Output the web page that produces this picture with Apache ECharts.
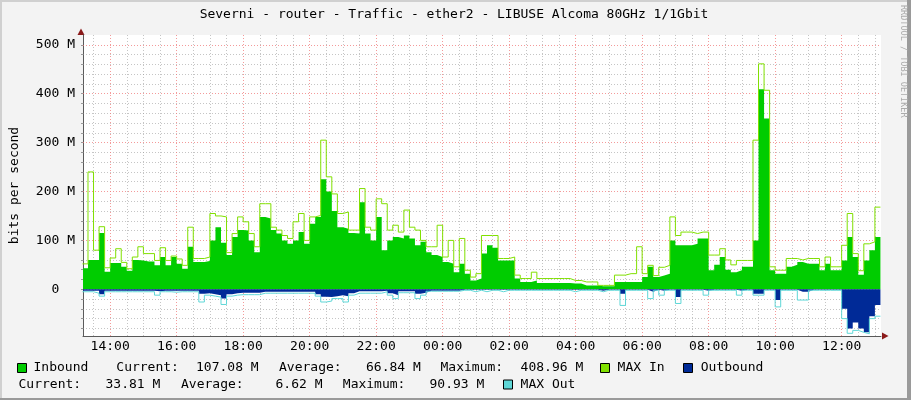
<!DOCTYPE html>
<html><head><meta charset="utf-8">
<script src="https://cdn.jsdelivr.net/npm/echarts@6/dist/echarts.min.js"></script>
<style>html,body{margin:0;padding:0;background:#f3f3f3}#c{width:911px;height:400px}</style>
</head><body><div id="c"></div>
<script>
// ---- data (values in Mbit/s, 10-minute samples starting 13:10) ----
const START_HOUR = 13 + 10 / 60;
const STEP_MIN = 10;

const inbound = [
 43,60,60,115,36,54,54,46,38,60,
 59,57,57,49,66,49,66,52,42,87,
 56,56,58,100,127,95,70,107,121,120,
 100,76,148,145,121,114,100,93,100,117,
 93,134,148,225,200,160,127,124,115,114,
 178,114,100,148,80,100,107,104,110,104,
 90,97,76,70,66,56,52,35,52,32,
 18,22,73,90,85,59,59,59,22,15,
 15,18,13,13,13,13,13,13,12,12,
 8,8,8,6,6,6,15,15,15,15,
 15,25,46,25,28,32,100,90,90,90,
 93,104,104,39,50,66,40,35,39,46,
 46,100,409,349,39,32,32,46,50,56,
 52,52,52,39,52,39,39,59,107,66,
 30,59,80,107,107
];
const maxIn = [
 52,240,80,128,44,64,83,55,42,66,
 87,73,73,59,85,59,68,62,49,127,
 63,63,66,155,150,148,75,114,148,138,
 114,87,175,175,127,121,110,104,138,155,
 100,148,151,305,230,195,155,158,121,121,
 206,127,121,185,175,121,131,117,162,127,
 121,100,87,87,131,66,100,46,104,39,
 25,32,110,110,110,63,63,66,29,22,
 22,35,22,22,22,22,22,22,18,18,
 15,15,15,8,8,8,29,29,32,32,
 87,32,49,28,45,49,148,110,117,117,
 114,117,117,70,70,83,60,50,59,59,
 59,305,461,407,46,39,39,63,63,60,
 63,63,63,46,66,46,46,90,155,73,
 38,93,97,168,168
];
const outbound = [
 3,3,3,10,3,3,3,3,3,3,
 3,3,3,4,3,3,3,3,3,3,
 3,9,8,10,12,19,10,8,7,7,
 7,7,5,5,5,5,5,5,5,5,
 5,5,10,15,16,14,12,14,8,4,
 4,4,4,4,3,8,12,4,4,4,
 9,7,3,3,3,3,3,3,1,1,
 1,1,1,1,1,1,1,1,1,1,
 1,1,1,1,1,1,1,1,1,1,
 1,1,1,3,1,1,1,9,1,1,
 1,1,5,1,3,1,1,16,1,1,
 1,1,3,1,1,1,1,1,3,1,
 1,9,9,1,1,22,1,1,1,5,
 5,1,1,1,1,1,1,40,80,68,
 80,88,55,32,34
];
const maxOut = [
 5,5,8,14,5,5,5,5,5,5,
 5,5,5,12,5,5,6,5,5,5,
 5,26,12,14,16,31,14,12,11,11,
 11,11,8,8,8,8,8,8,8,8,
 8,8,14,26,24,19,19,26,12,8,
 8,8,8,8,5,12,19,7,7,7,
 19,12,4,4,4,4,4,4,2,2,
 5,2,5,2,2,5,2,2,2,2,
 2,2,2,2,2,2,2,2,5,2,
 2,2,2,5,2,2,2,33,2,2,
 2,2,19,2,12,2,2,29,2,2,
 2,2,12,2,2,2,2,2,12,2,
 2,12,12,2,2,36,2,2,2,22,
 22,2,2,2,2,2,2,60,90,84,
 88,91,60,55,55
];

const xTickHours = [14,16,18,20,22,24,26,28,30,32,34,36];
const yTickValues = [0,100,200,300,400,500];

// ---- layout / style ----
const FONT = 'DejaVu Sans Mono';
const X_MIN = 13 + 11 / 60, X_MAX = X_MIN + 24;
const Y_MIN = -95.5, Y_MAX = 520;
const C_IN = '#00CC00', C_MAXIN = '#80E000', C_OUT = '#002A97', C_MAXOUT = '#5FD7D7';
const MAJOR = 'rgba(240,120,120,0.75)', MINOR = 'rgba(150,150,150,0.55)';

const times = inbound.map((_, i) => START_HOUR + i * STEP_MIN / 60);
const pair = (arr, sign) => arr.map((v, i) => [times[i], sign * v]);

// grid lines (through the axes' scales via markLine)
const gridLines = [];
for (let h = 13.5; h <= 37.0001; h += 0.5) {
  if (Math.abs(h % 2) > 0.01) gridLines.push({ xAxis: h, lineStyle: { color: MINOR, type: [1, 2], width: 1 } });
}
for (let v = -80; v <= 500; v += 20) {
  if (v % 100 !== 0) gridLines.push({ yAxis: v, lineStyle: { color: MINOR, type: [1, 2], width: 1 } });
}
xTickHours.forEach(h => gridLines.push({ xAxis: h, lineStyle: { color: MAJOR, type: [1, 2], width: 1 } }));
yTickValues.forEach(v => gridLines.push({ yAxis: v, lineStyle: { color: MAJOR, type: [1, 2], width: 1 } }));

const minorY = [];
for (let v = -80; v <= 500; v += 20) minorY.push(v);

const txt = (text, x, y, extra) => Object.assign({
  type: 'text', x, y, silent: true,
  style: { text, font: '13px ' + FONT, fill: '#000', align: 'left', verticalAlign: 'middle' }
}, extra || {});
const box = (x, y, color) => ({
  type: 'rect', silent: true, shape: { x, y, width: 9, height: 9 },
  style: { fill: color, stroke: '#000', lineWidth: 1 }
});

const R1 = 368, R2 = 384.5;
const TITLE = 'Severni - router - Traffic - ether2 - LIBUSE Alcoma 80GHz 1/1Gbit';
const graphic = [
  { type: 'rect', silent: true, shape: { x: 0, y: 0, width: 911, height: 2 }, style: { fill: '#d0d0d0' } },
  { type: 'rect', silent: true, shape: { x: 0, y: 0, width: 2, height: 400 }, style: { fill: '#d0d0d0' } },
  { type: 'rect', silent: true, shape: { x: 907, y: 0, width: 4, height: 400 }, style: { fill: '#9a9a9a' } },
  { type: 'rect', silent: true, shape: { x: 0, y: 398, width: 911, height: 2 }, style: { fill: '#9a9a9a' } },
  { type: 'text', x: 454, y: 14.5, silent: true,
    style: { text: TITLE, font: '13px ' + FONT, fill: '#000', align: 'center', verticalAlign: 'middle' } },
  { type: 'text', x: 903, y: 5, rotation: -Math.PI / 2, silent: true,
    style: { text: 'RRDTOOL / TOBI OETIKER', font: '8.5px ' + FONT, fill: '#aaaaaa', align: 'left', verticalAlign: 'middle' } },
  // axis arrows
  { type: 'polygon', silent: true, shape: { points: [[77.5, 35], [84.5, 35], [81, 28.5]] }, style: { fill: '#8b1a1a' } },
  { type: 'polygon', silent: true, shape: { points: [[882, 332.5], [882, 339.5], [888.5, 336]] }, style: { fill: '#8b1a1a' } },
  // legend row 1
  box(17.5, 363.5, C_IN), txt('Inbound', 33.5, R1),
  txt('Current:', 116.3, R1), txt('107.08 M', 196, R1),
  txt('Average:', 279, R1), txt('66.84 M', 366, R1),
  txt('Maximum:', 440.5, R1), txt('408.96 M', 520.6, R1),
  box(600.5, 363.5, C_MAXIN), txt('MAX In', 617.6, R1),
  box(683.5, 363.5, C_OUT), txt('Outbound', 700.7, R1),
  // legend row 2
  txt('Current:', 18.5, R2), txt('33.81 M', 105.5, R2),
  txt('Average:', 181, R2), txt('6.62 M', 275.5, R2),
  txt('Maximum:', 342.8, R2), txt('90.93 M', 429.5, R2),
  box(503.5, 380, C_MAXOUT), txt('MAX Out', 520.6, R2)
];

const chart = echarts.init(document.getElementById('c'), null, { renderer: 'canvas' });
chart.setOption({
  animation: false,
  backgroundColor: '#f3f3f3',
  grid: { left: 81, top: 35, width: 800, height: 301, show: true, backgroundColor: '#ffffff', borderWidth: 0 },
  xAxis: {
    type: 'value', min: X_MIN, max: X_MAX,
    axisLine: { show: true, onZero: false, lineStyle: { color: '#5a5a5a', width: 1 } },
    axisTick: { show: false },
    axisLabel: {
      customValues: xTickHours, margin: 4, color: '#000', fontFamily: FONT, fontSize: 13, lineHeight: 13,
      formatter: v => { const h = Math.round(v) % 24; return (h < 10 ? '0' : '') + h + ':00'; }
    },
    splitLine: { show: false }
  },
  yAxis: {
    type: 'value', min: Y_MIN, max: Y_MAX,
    name: 'bits per second', nameLocation: 'middle', nameGap: 62, nameRotate: 90,
    nameTextStyle: { fontFamily: FONT, fontSize: 13, color: '#000' },
    axisLine: { show: true, onZero: false, lineStyle: { color: '#5a5a5a', width: 1 } },
    axisTick: { show: true, customValues: minorY, length: 2, lineStyle: { color: '#999' } },
    axisLabel: {
      customValues: yTickValues, margin: 8, color: '#000', fontFamily: FONT, fontSize: 13,
      formatter: v => v === 0 ? '0  ' : v + ' M'
    },
    splitLine: { show: false }
  },
  graphic,
  series: [
    { type: 'line', name: 'grid', data: [], silent: true, z: 1,
      markLine: { silent: true, z: 1, symbol: ['none', 'none'], label: { show: false }, animation: false, data: gridLines } },
    { type: 'line', name: 'Inbound', step: 'end', data: pair(inbound, 1), symbol: 'none', silent: true, z: 3,
      lineStyle: { width: 0 }, areaStyle: { color: C_IN, opacity: 1 } },
    { type: 'line', name: 'Outbound', step: 'end', data: pair(outbound, -1), symbol: 'none', silent: true, z: 3,
      lineStyle: { width: 0 }, areaStyle: { color: C_OUT, opacity: 1 } },
    { type: 'line', name: 'MAX In', step: 'end', data: pair(maxIn, 1), symbol: 'none', silent: true, z: 4,
      lineStyle: { width: 1, color: C_MAXIN } },
    { type: 'line', name: 'MAX Out', step: 'end', data: pair(maxOut, -1), symbol: 'none', silent: true, z: 4,
      lineStyle: { width: 1, color: C_MAXOUT } }
  ]
});
</script></body></html>
